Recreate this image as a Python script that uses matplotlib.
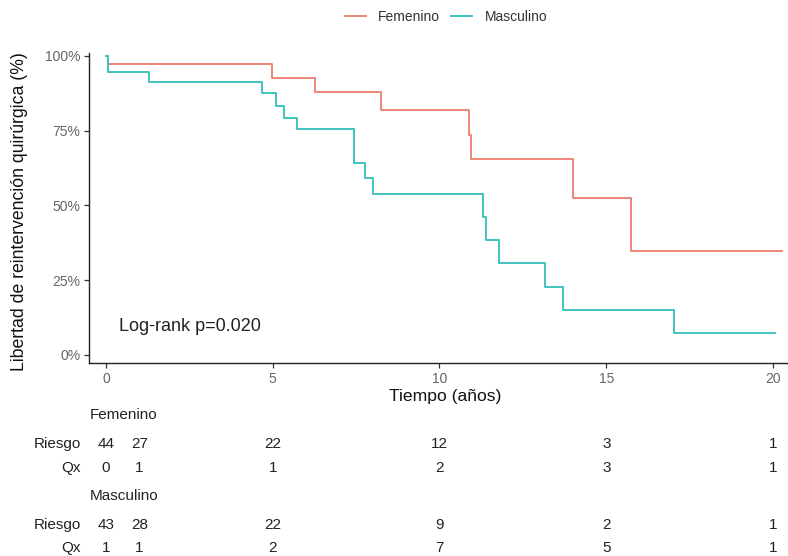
import matplotlib
matplotlib.use("Agg")
import matplotlib.pyplot as plt
import matplotlib.transforms as mtransforms

plt.rcParams['font.family'] = ['Liberation Sans', 'DejaVu Sans']

# survival curves (time in years, survival in %)
fem_t = [0, 0.05, 4.97, 6.27, 8.25, 10.90, 10.94, 14.01, 15.73, 20.26]
fem_s = [100, 97.3, 92.5, 87.9, 81.8, 73.6, 65.5, 52.5, 34.9, 34.9]
mas_t = [0, 0.05, 1.29, 4.67, 5.09, 5.35, 5.72, 7.45, 7.77, 8.00, 11.30, 11.39, 11.79, 13.16, 13.71, 17.03, 20.06]
mas_s = [100, 94.7, 91.4, 87.5, 83.3, 79.4, 75.5, 64.3, 59.1, 53.8, 46.3, 38.5, 30.7, 22.8, 15.1, 7.3, 7.3]

# risk table
tab_t = [0, 1, 5, 10, 15, 20]
fem_riesgo = [44, 27, 22, 12, 3, 1]
fem_qx = [0, 1, 1, 2, 3, 1]
mas_riesgo = [43, 28, 22, 9, 2, 1]
mas_qx = [1, 1, 2, 7, 5, 1]

x_ticks = [0, 5, 10, 15, 20]
y_ticks = [0, 25, 50, 75, 100]
y_labels = ['0%', '25%', '50%', '75%', '100%']

col_fem = '#EE8577'
col_mas = '#3EC3C0'

W, H = 788, 556
fig = plt.figure(figsize=(W / 100, H / 100), dpi=100)
ax = fig.add_axes([89.3 / W, 1 - 362.7 / H, (788 - 89.3) / W, (362.7 - 53.3) / H])

ax.plot(fem_t, fem_s, drawstyle='steps-post', color=col_fem, lw=1.4, label='Femenino')
ax.plot(mas_t, mas_s, drawstyle='steps-post', color=col_mas, lw=1.4, label='Masculino')

ax.set_xlim(-0.5, 20.45)
ax.set_ylim(-2.58, 100.9)
ax.set_xticks(x_ticks)
ax.set_yticks(y_ticks)
ax.set_yticklabels(y_labels)
ax.tick_params(axis='both', labelsize=10, labelcolor='#666666', color='#333333',
               length=3.5, width=0.9, pad=3)
for s in ['top', 'right']:
    ax.spines[s].set_visible(False)
for s in ['left', 'bottom']:
    ax.spines[s].set_linewidth(1.0)
    ax.spines[s].set_color('#222222')

ax.text(0.4, 9.5, 'Log-rank p=0.020', fontsize=13, color='#222222', va='center')

fig.text(20 / W, 1 - 211.5 / H, 'Libertad de reintervención quirúrgica (%)', rotation=90,
         ha='center', va='center', fontsize=12.7, color='#111111')
fig.text(445 / W, 1 - 396.5 / H, 'Tiempo (años)', ha='center', va='center',
         fontsize=12.6, color='#111111')

fig.legend(loc='center', bbox_to_anchor=(446 / W, 1 - 16.7 / H), ncol=2, frameon=False,
           fontsize=10, handlelength=1.5, handletextpad=0.9, columnspacing=0.8,
           labelcolor='#333333')

# risk table under the plot, aligned with the time axis
tr = mtransforms.blended_transform_factory(ax.transData, fig.transFigure)
rows = [
    ('Femenino', None, 415),
    ('Riesgo', fem_riesgo, 444.3),
    ('Qx', fem_qx, 468.3),
    ('Masculino', None, 495.7),
    ('Riesgo', mas_riesgo, 525),
    ('Qx', mas_qx, 547.7),
]
for name, vals, ypx in rows:
    y = 1 - ypx / H
    if vals is None:
        fig.text(90 / W, y, name, ha='left', va='center', fontsize=11, color='#222222')
    else:
        fig.text(81 / W, y, name, ha='right', va='center', fontsize=11, color='#222222')
        for t, v in zip(tab_t, vals):
            fig.text(t, y, str(v), transform=tr, ha='center', va='center',
                     fontsize=11, color='#222222')

fig.savefig('out.png', dpi=100)
